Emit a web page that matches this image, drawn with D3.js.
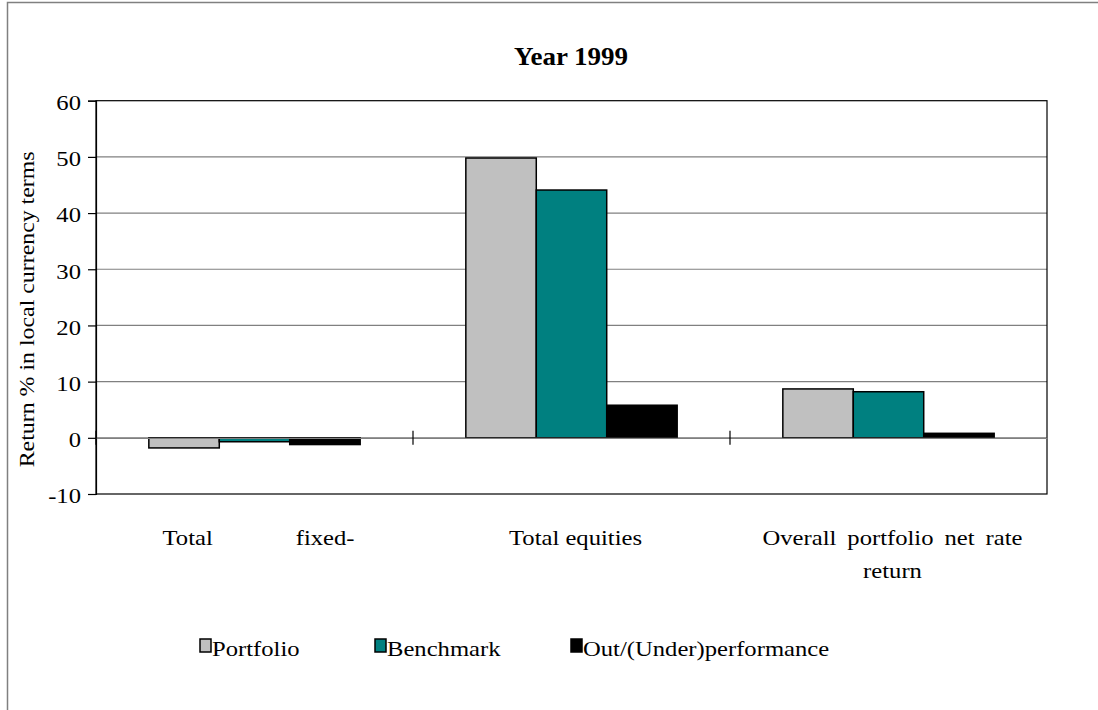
<!DOCTYPE html>
<html>
<head>
<meta charset="utf-8">
<script src="https://cdn.jsdelivr.net/npm/d3@7/dist/d3.min.js"></script>
<style>
  html, body { margin: 0; padding: 0; background: #fff; }
  svg { display: block; }
  text { font-family: "Liberation Serif", "Times New Roman", serif; fill: #000; }
</style>
</head>
<body>
<svg id="chart" width="1098" height="710"></svg>
<script>
// Category names and the lines each label is drawn with
const categories = ["Total fixed-income", "Total equities", "Overall portfolio net rate return"];
const categoryLines = [["Total fixed-"], ["Total equities"], ["Overall portfolio net rate", "return"]];

// Series
const seriesNames = ["Portfolio", "Benchmark", "Out/(Under)performance"];
const portfolio = [-1.8, 49.8, 8.7];
const benchmark = [-0.7, 44.1, 8.2];
const outUnder = [-1.2, 5.8, 0.8];

// Value axis
const yTicks = [-10, 0, 10, 20, 30, 40, 50, 60];

const seriesValues = [portfolio, benchmark, outUnder];
const colors = ["#C0C0C0", "#008080", "#000000"];

// text is set slightly wide along its baseline
const SX = 1.12;

const svg = d3.select("#chart");

function addText(parent, x, y, str, size, anchor, rot, sx) {
  const s = sx || SX;
  return parent.append("text")
    .attr("transform", `translate(${x},${y})${rot ? ` rotate(${rot})` : ""} scale(${s},1)`)
    .attr("text-anchor", anchor || "start")
    .attr("font-size", size)
    .text(str);
}

// outer chart frame
svg.append("rect")
  .attr("x", 7.5).attr("y", 2.5)
  .attr("width", 1200).attr("height", 800)
  .attr("fill", "none").attr("stroke", "#808080").attr("stroke-width", 1.5);

const plot = { left: 96, right: 1047, top: 100.7, bottom: 494 };

const y = d3.scaleLinear().domain([-10, 60]).range([plot.bottom, plot.top]);
const x0 = d3.scaleBand().domain(categories).range([plot.left, plot.right]).padding(0);
const x1 = d3.scaleBand().domain(seriesNames).range([0, x0.bandwidth()])
  .paddingInner(0).paddingOuter(0.75);

// title
addText(svg, 571, 65, "Year 1999", 25, "middle", 0, 1.08).attr("font-weight", "bold");

// gridlines
svg.append("g")
  .selectAll("line")
  .data(yTicks.filter(t => t > -10 && t < 60))
  .join("line")
  .attr("x1", plot.left).attr("x2", plot.right)
  .attr("y1", d => y(d)).attr("y2", d => y(d))
  .attr("stroke", "#808080").attr("stroke-width", 1.2);

// plot frame
svg.append("rect")
  .attr("x", plot.left).attr("y", plot.top)
  .attr("width", plot.right - plot.left).attr("height", plot.bottom - plot.top)
  .attr("fill", "none").attr("stroke", "#000").attr("stroke-width", 1.2);

// value axis
const yAxis = d3.axisLeft(y).tickValues(yTicks).tickSize(8).tickPadding(7)
  .tickFormat(d => String(d));
const yg = svg.append("g")
  .attr("transform", `translate(${plot.left},0)`)
  .call(yAxis);
yg.select(".domain").attr("stroke", "#000").attr("stroke-width", 1.2);
yg.selectAll(".tick line").attr("stroke", "#000").attr("stroke-width", 1.2);
yg.selectAll(".tick text")
  .attr("font-family", "Liberation Serif, Times New Roman, serif")
  .attr("font-size", 22).attr("fill", "#000")
  .attr("x", -15 / SX)
  .attr("dy", "0.4em")
  .attr("transform", `scale(${SX},1)`);

// axis title
addText(svg, 34, (plot.top + plot.bottom) / 2 + 12, "Return % in local currency terms", 22, "middle", -90, 1.085);

// bars
const groups = svg.append("g")
  .selectAll("g")
  .data(categories)
  .join("g")
  .attr("transform", d => `translate(${x0(d)},0)`);

groups.selectAll("rect")
  .data((d, i) => seriesNames.map((s, j) => ({ s, v: seriesValues[j][i], j })))
  .join("rect")
  .attr("x", d => x1(d.s))
  .attr("width", x1.bandwidth())
  .attr("y", d => y(Math.max(0, d.v)))
  .attr("height", d => Math.abs(y(d.v) - y(0)))
  .attr("fill", d => colors[d.j])
  .attr("stroke", "#000").attr("stroke-width", 1.5);

// category axis at zero with crossing tick marks between groups
const xAxis = d3.axisBottom(x0).tickSize(0).tickFormat("");
svg.append("g")
  .attr("transform", `translate(0,${y(0)})`)
  .call(xAxis)
  .select(".domain").attr("stroke", "#808080").attr("stroke-width", 1.2);

svg.append("g")
  .selectAll("line")
  .data(categories)
  .join("line")
  .attr("x1", d => x0(d)).attr("x2", d => x0(d))
  .attr("y1", y(0) - 7).attr("y2", y(0) + 7)
  .attr("stroke", "#000").attr("stroke-width", 1.2);

// category labels; lines that continue onto another line are justified
const labelBox = [192, 0, 260];
const labelJustify = [[true], [false], [true, false]];
const labelFont = 22;
const lineGap = 33;
categoryLines.forEach((lines, i) => {
  const cx = x0(categories[i]) + x0.bandwidth() / 2 + 4;
  lines.forEach((line, k) => {
    const yy = 545 + k * lineGap;
    if (!labelJustify[i][k]) {
      addText(svg, cx, yy, line, labelFont, "middle");
    } else {
      const words = line.split(" ");
      const nodes = words.map(w => addText(svg, 0, yy, w, labelFont, "start"));
      const widths = nodes.map(n => n.node().getComputedTextLength() * SX);
      const gap = (labelBox[i] - d3.sum(widths)) / (words.length - 1);
      let xx = cx - labelBox[i] / 2;
      nodes.forEach((n, m) => {
        n.attr("transform", `translate(${xx},${yy}) scale(${SX},1)`);
        xx += widths[m] + gap;
      });
    }
  });
});

// legend
const legendX = [200, 375, 571];
const legend = svg.append("g")
  .selectAll("g")
  .data(seriesNames)
  .join("g")
  .attr("transform", (d, i) => `translate(${legendX[i]},639)`);
legend.append("rect")
  .attr("width", 11).attr("height", 13)
  .attr("fill", (d, i) => colors[i])
  .attr("stroke", "#000").attr("stroke-width", 1.5);
legend.each(function (d) {
  addText(d3.select(this), 12, 17, d, 22, "start");
});
</script>
</body>
</html>
